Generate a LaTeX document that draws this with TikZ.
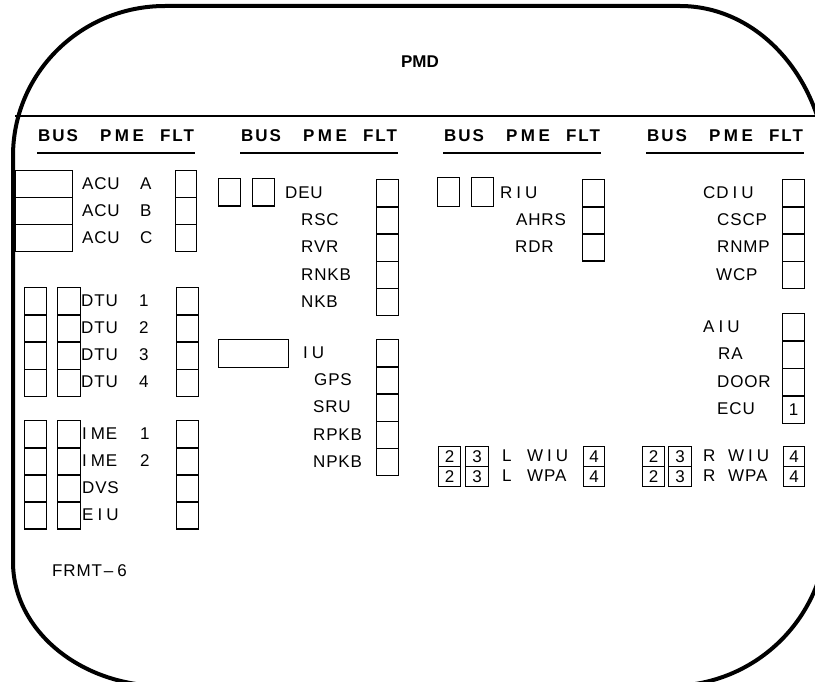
\documentclass[tikz,border=0pt]{standalone}
\usepackage{fontspec}
\setmainfont{Liberation Sans}
\newfontfamily\lblfont[LetterSpace=5]{Liberation Sans}
\newfontfamily\hdrfont[LetterSpace=12]{Liberation Sans}

\newcommand{\Igap}{\kern4pt}
\newcommand{\unitlbl}[2]{\makebox[58pt][l]{#1}#2}

\tikzset{
  cell/.style={draw, line width=1.4pt, inner sep=0pt, anchor=north west,
    minimum width=22pt, minimum height=27.2pt, font=\lblfont\fontsize{17}{17}\selectfont},
  lbl/.style={anchor=west, inner sep=0pt, font=\lblfont\fontsize{17}{17}\selectfont},
  hdr/.style={inner sep=0pt, font=\hdrfont\bfseries\fontsize{17}{17}\selectfont},
}

\begin{document}
\begin{tikzpicture}[x=1pt, y=-1pt]
  \useasboundingbox (0,0) rectangle (815,682);
  \fill[white] (0,0) rectangle (815,682);
  \clip (0,0) rectangle (815,682);

  % Screen outline (runs off the right and bottom edges)
  \draw[line width=4pt] (13,562) -- (13,156) .. controls (13,73) and (81,6) .. (165,6)
    -- (680,6) .. controls (761,6) and (827,83) .. (827,178)
    -- (827,529) .. controls (827,616) and (757,686) .. (670,686)
    -- (163,686) .. controls (80,686) and (13,630) .. (13,562) -- cycle;

  % Title bar
  \draw[line width=1.5pt] (15,116) -- (822,116);
  \node[font=\bfseries\fontsize{17}{17}\selectfont] (title) at (420,62) {PMD};

  % Column headers
  \foreach \x [count=\c] in {37,240,443,646} {
    \node[hdr] (bus\c) at (\x+21,136) {BUS};
    \node[hdr] (pme\c) at (\x+85,136) {P\kern3.5pt M\kern3.5pt E};
    \node[hdr] (flt\c) at (\x+140,136) {FLT};
    \draw[line width=1.5pt] (\x,153) -- (\x+158,153);
  }

  % Column 1: ACU
  \foreach \n [count=\i from 0] in {A,B,C} {
    \node[cell, minimum width=57pt, minimum height=27pt] (acu\n-bus) at (15,170+27*\i) {};
    \node[lbl] (acu\n) at (82,183.5+27*\i) {\unitlbl{ACU}{\n}};
    \node[cell, minimum width=21pt, minimum height=27pt] (acu\n-flt) at (175,170+27*\i) {};
  }

  % Column 1: DTU
  \foreach \n [count=\i from 0] in {1,...,4} {
    \node[cell] (dtu\n-bus) at (24,287+27.2*\i) {};
    \node[cell, minimum width=23pt] (dtu\n-pme) at (57,287+27.2*\i) {};
    \node[lbl] (dtu\n) at (81,300.6+27.2*\i) {\unitlbl{DTU}{\n}};
    \node[cell] (dtu\n-flt) at (176,287+27.2*\i) {};
  }

  % Column 1: IME, DVS, EIU
  \foreach \n/\txt [count=\i from 0] in {ime1/{\unitlbl{I\Igap ME}{1}}, ime2/{\unitlbl{I\Igap ME}{2}},
      dvs/DVS, eiu/{E\Igap I\Igap U}} {
    \node[cell] (\n-bus) at (24,420+27*\i) {};
    \node[cell, minimum width=23pt] (\n-pme) at (57,420+27*\i) {};
    \node[lbl] (\n) at (82,433.5+27*\i) {\txt};
    \node[cell] (\n-flt) at (176,420+27*\i) {};
  }

  \node[lbl] (frmt) at (52,571) {FRMT\kern2pt–\kern4pt6};

  % Column 2: DEU group
  \node[cell] (deu-bus) at (218,178) {};
  \node[cell] (deu-pme) at (252,178) {};
  \foreach \n/\txt/\x [count=\i from 0] in {deu/DEU/285, rsc/RSC/301, rvr/RVR/301,
      rnkb/RNKB/301, nkb/NKB/301} {
    \node[lbl] (\n) at (\x,192.6+27.2*\i) {\txt};
    \node[cell] (\n-flt) at (376,179+27.2*\i) {};
  }

  % Column 2: IU group
  \node[cell, minimum width=70pt, minimum height=28pt] (iu-bus) at (218,339) {};
  \foreach \n/\txt/\x [count=\i from 0] in {iu/{I\Igap U}/303, gps/GPS/314, sru/SRU/313,
      rpkb/RPKB/313, npkb/NPKB/313} {
    \node[lbl] (\n) at (\x,352.6+27.2*\i) {\txt};
    \node[cell] (\n-flt) at (376,339+27.2*\i) {};
  }

  % Column 3: RIU group
  \node[cell, minimum height=29pt] (riu-bus) at (437,177) {};
  \node[cell, minimum height=29pt] (riu-pme) at (471,177) {};
  \foreach \n/\txt/\x [count=\i from 0] in {riu/{R\Igap I\Igap U}/500, ahrs/AHRS/516, rdr/RDR/515} {
    \node[lbl] (\n) at (\x,192.5+27*\i) {\txt};
    \node[cell] (\n-flt) at (582,179+27*\i) {};
  }

  % Column 4: CDIU group
  \foreach \n/\txt/\x [count=\i from 0] in {cdiu/{CD\Igap I\Igap U}/703, cscp/CSCP/717,
      rnmp/RNMP/717, wcp/WCP/716} {
    \node[lbl] (\n) at (\x,192.6+27.2*\i) {\txt};
    \node[cell] (\n-flt) at (782,179+27.2*\i) {};
  }

  % Column 4: AIU group
  \foreach \n/\txt/\x/\v [count=\i from 0] in {aiu/{A\Igap I\Igap U}/703/{}, ra/RA/718/{},
      door/DOOR/717/{}, ecu/ECU/717/1} {
    \node[lbl] (\n) at (\x,326.5+27.5*\i) {\txt};
    \node[cell] (\n-flt) at (782,313+27.5*\i) {\v};
  }

  % Wing units (left and right)
  \foreach \s/\a/\b/\c/\d in {L/438/465/502/583, R/642/668/703/783} {
    \foreach \u/\w [count=\i from 0] in {WIU/{W\Igap I\Igap U}, WPA/WPA} {
      \node[cell, minimum height=20pt] (\s\u-bus) at (\a,446+20*\i) {2};
      \node[cell, minimum height=20pt, minimum width=23pt] (\s\u-pme) at (\b,446+20*\i) {3};
      \node[lbl] (\s\u) at (\c,456+20*\i) {\makebox[25pt][l]{\s}\w};
      \node[cell, minimum height=20pt, minimum width=21pt] (\s\u-flt) at (\d,446+20*\i) {4};
    }
  }
\end{tikzpicture}
\end{document}
